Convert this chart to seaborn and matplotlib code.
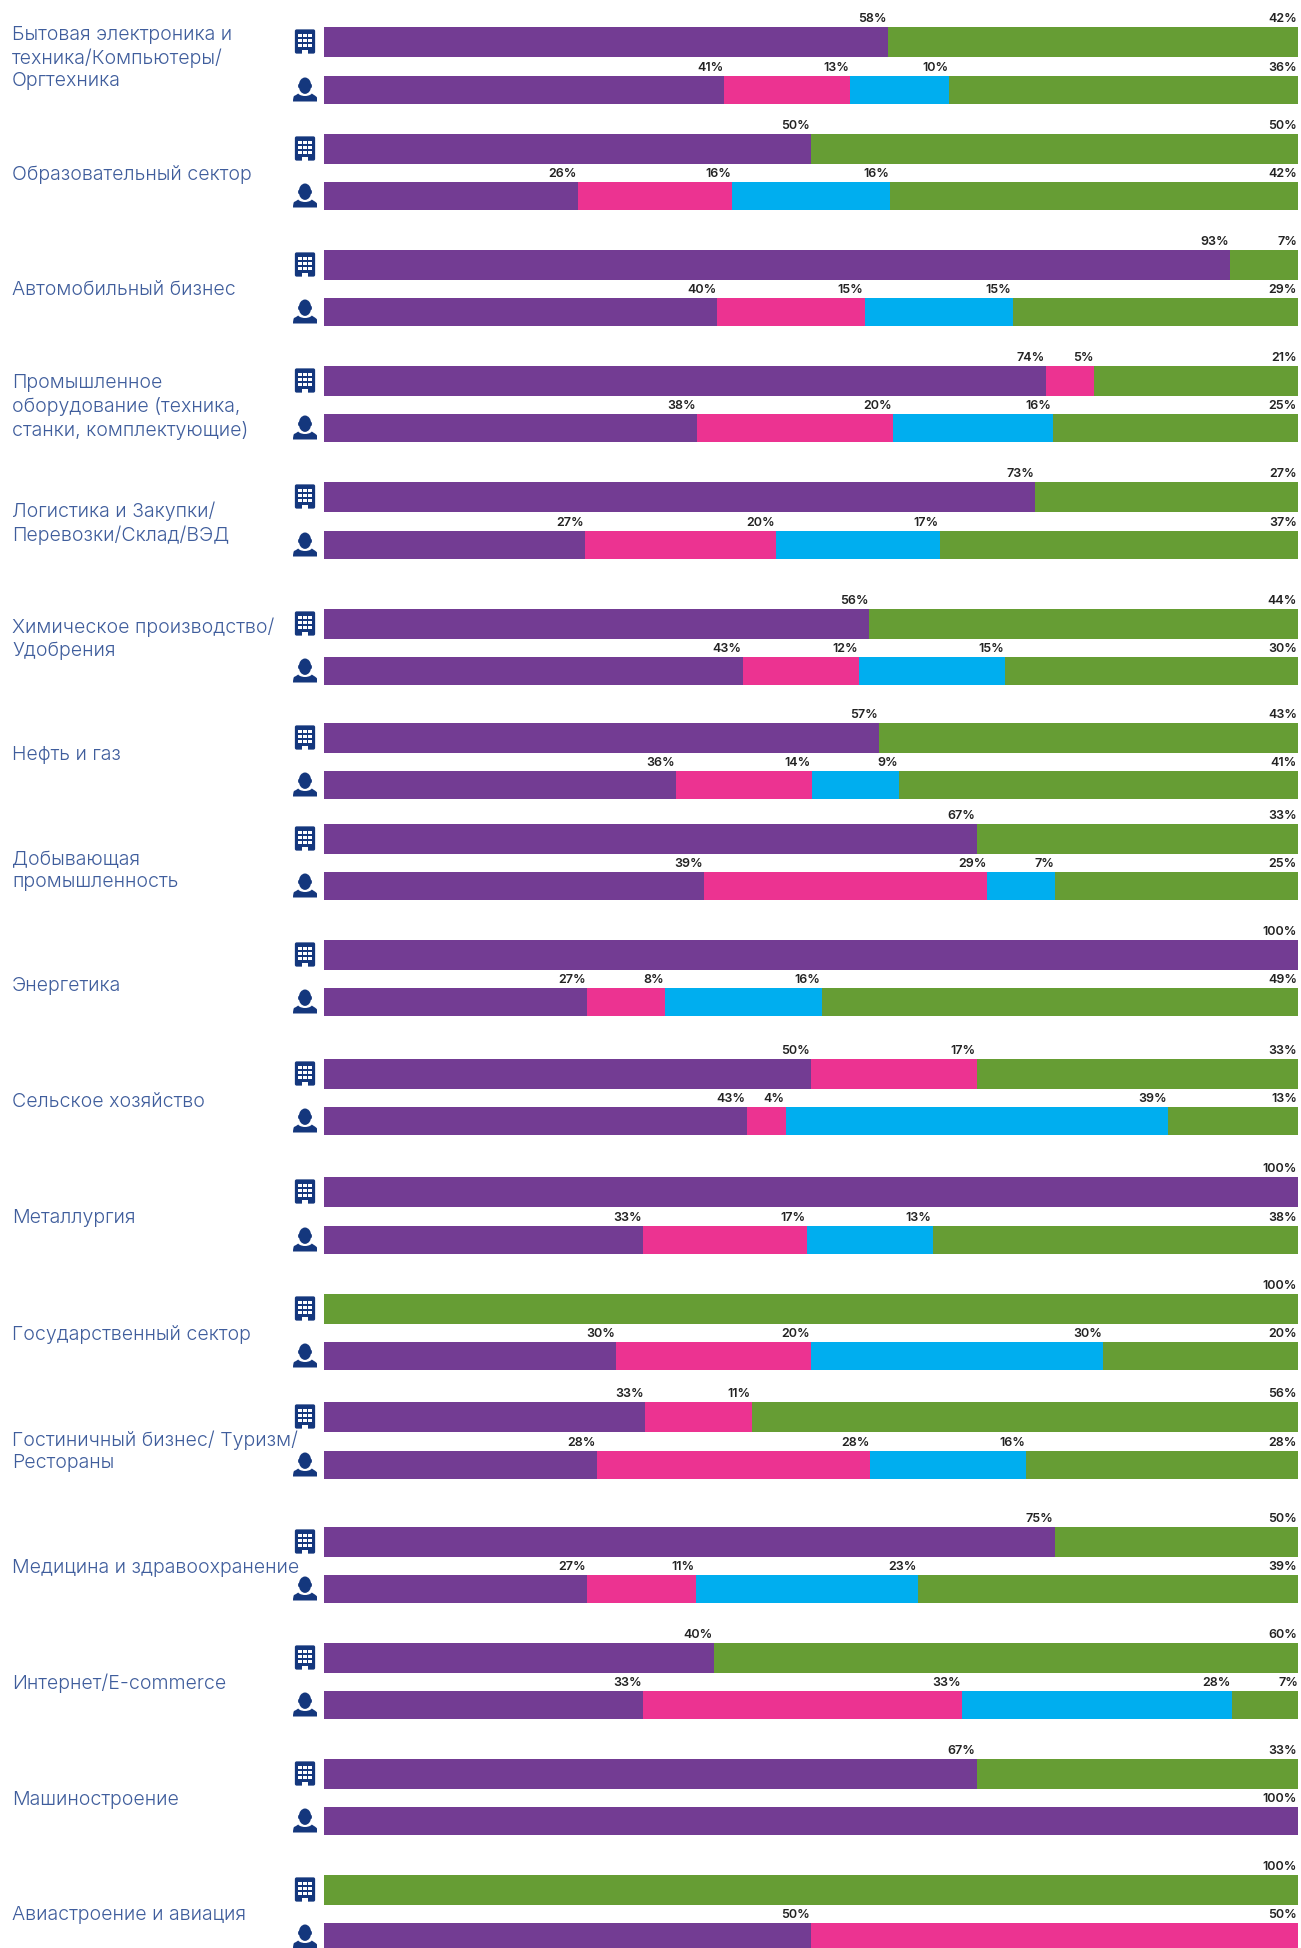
import matplotlib
matplotlib.use("Agg")
import matplotlib.pyplot as plt
import seaborn as sns
from matplotlib.patches import Ellipse, FancyBboxPatch, PathPatch, Rectangle
from matplotlib.path import Path

sectors = [
    "Бытовая электроника и\nтехника/Компьютеры/\nОргтехника",
    "Образовательный сектор",
    "Автомобильный бизнес",
    "Промышленное\nоборудование (техника,\nстанки, комплектующие)",
    "Логистика и Закупки/\nПеревозки/Склад/ВЭД",
    "Химическое производство/\nУдобрения",
    "Нефть и газ",
    "Добывающая\nпромышленность",
    "Энергетика",
    "Сельское хозяйство",
    "Металлургия",
    "Государственный сектор",
    "Гостиничный бизнес/ Туризм/\nРестораны",
    "Медицина и здравоохранение",
    "Интернет/E-commerce",
    "Машиностроение",
    "Авиастроение и авиация",
]

company_purple = [57.9, 50, 93, 74.1, 73, 56, 57, 67, 100, 50, 100, 0, 33, 75, 40, 67, 0]
company_pink = [0, 0, 0, 5, 0, 0, 0, 0, 0, 17, 0, 0, 10.9, 0, 0, 0, 0]
company_blue = [0] * 17
company_green = [42.1, 50, 7, 20.9, 27, 44, 43, 33, 0, 33, 0, 100, 56.1, 25, 60, 33, 100]

person_purple = [41.1, 26.1, 40.4, 38.3, 26.8, 43, 36.1, 39, 27, 43.4, 32.8, 30, 28, 27, 32.8, 100, 50]
person_pink = [12.9, 15.8, 15.1, 20.1, 19.6, 11.9, 14, 29.1, 8, 4, 16.8, 20, 28.1, 11.2, 32.7, 0, 50]
person_blue = [10.2, 16.2, 15.2, 16.4, 16.8, 15, 8.9, 7, 16.1, 39.3, 12.9, 30, 16, 22.8, 27.7, 0, 0]
person_green = [35.8, 41.9, 29.3, 25.2, 36.8, 30.1, 41, 24.9, 48.9, 13.3, 37.5, 20, 27.9, 39, 7, 0, 0]

# One printed label differs from the drawn length in the source chart.
label_overrides = {(13, "company", "green"): 50}

# Layout, in reference pixels.
W, H = 1301, 1948
BAR_LEFT, BAR_RIGHT = 324, 1298
COMPANY_H, PERSON_H = 30, 28
company_tops = [27, 134, 250, 366, 482, 609, 723, 824, 940, 1059, 1177, 1294, 1402, 1527, 1643, 1759, 1875]
person_tops = [76, 182, 298, 414, 531, 657, 771, 872, 988, 1107, 1226, 1342, 1451, 1575, 1691, 1807, 1923]
label_centers = [58, 175, 290, 407, 523, 639, 755, 871, 986, 1102, 1218, 1335, 1451, 1568, 1683, 1800, 1915]

PALETTE = {"purple": "#733c93", "pink": "#ec3391", "blue": "#00aeef", "green": "#669d34"}
ICON = "#14377d"
TEXT = "#3f5d9c"

sns.set_theme(style="white")
plt.rcParams["font.family"] = ["Inter", "DejaVu Sans"]

fig = plt.figure(figsize=(W / 100, H / 100), dpi=100, facecolor="white")

overlay = fig.add_axes([0, 0, 1, 1], zorder=0)
overlay.set_xlim(0, W)
overlay.set_ylim(H, 0)
overlay.axis("off")


def building(ax, top):
    x0, y0 = 295, top + 2.5
    ax.add_patch(FancyBboxPatch((x0 + 0.7, y0 + 0.7), 18.6, 22.6,
                                boxstyle="round,pad=0,rounding_size=1", fc=ICON, ec=ICON, lw=1.2))
    for row in range(3):
        for col in range(3):
            ax.add_patch(Rectangle((x0 + 3.3 + col * 5, y0 + 4 + row * 5), 3.4, 3.4, fc="white", ec="none"))
    ax.add_patch(Rectangle((x0 + 7.3, y0 + 20), 5.4, 4.4, fc="white", ec="none"))


def person(ax, top):
    cx, y = 305, top + 1.5
    body = Path(
        [(cx - 12, y + 24), (cx - 12, y + 20), (cx - 11, y + 18.5), (cx - 9, y + 17.5),
         (cx - 6, y + 15.5), (cx + 6, y + 15.5), (cx + 9, y + 17.5), (cx + 11, y + 18.5),
         (cx + 12, y + 20), (cx + 12, y + 24), (cx - 12, y + 24)],
        [Path.MOVETO, Path.CURVE3, Path.CURVE3, Path.LINETO, Path.LINETO, Path.LINETO,
         Path.LINETO, Path.CURVE3, Path.CURVE3, Path.LINETO, Path.CLOSEPOLY],
    )
    ax.add_patch(PathPatch(body, fc=ICON, ec="none"))
    ax.add_patch(Ellipse((cx, y + 14.2), 15, 8.6, fc="white", ec="none"))
    ax.add_patch(Ellipse((cx, y + 8.2), 12.4, 16.4, fc=ICON, ec="none"))
    ax.add_patch(Ellipse((cx - 6, y + 8.5), 1.8, 4, fc=ICON, ec="none"))
    ax.add_patch(Ellipse((cx + 6, y + 8.5), 1.8, 4, fc=ICON, ec="none"))


def stacked_row(i, group, top, height, series):
    ax = fig.add_axes([BAR_LEFT / W, 1 - (top + height) / H, (BAR_RIGHT - BAR_LEFT) / W, height / H], zorder=2)
    names = list(series)
    cums, total = [], 0
    for name in names:
        total += series[name][i]
        cums.append(total)
    # Stack by overdrawing from the longest cumulative bar to the shortest.
    for name, cum in reversed(list(zip(names, cums))):
        if series[name][i] > 0:
            sns.barplot(x=[cum], y=[group], color=PALETTE[name], width=1.0, saturation=1.0,
                        orient="h", ax=ax, linewidth=0)
    ax.set_xlim(0, 100)
    ax.set_ylim(0.5, -0.5)
    ax.axis("off")
    for name, cum in zip(names, cums):
        value = series[name][i]
        if value > 0:
            shown = label_overrides.get((i, group, name), round(value + 1e-9))
            ax.annotate(f"{shown}%", xy=(cum, 1), xycoords=ax.get_xaxis_transform(),
                        xytext=(-0.8, 3.7), textcoords="offset points", ha="right", va="baseline",
                        fontsize=9, fontweight=600, color="#222222", annotation_clip=False)


company = {"purple": company_purple, "pink": company_pink, "blue": company_blue, "green": company_green}
people = {"purple": person_purple, "pink": person_pink, "blue": person_blue, "green": person_green}

for i, sector in enumerate(sectors):
    stacked_row(i, "company", company_tops[i], COMPANY_H, company)
    stacked_row(i, "person", person_tops[i], PERSON_H, people)
    building(overlay, company_tops[i])
    person(overlay, person_tops[i])
    overlay.text(12, label_centers[i], sector, ha="left", va="center", fontsize=14.1, fontweight=300,
                 color=TEXT, linespacing=1.3, zorder=5)

fig.savefig("out.png", dpi=100, facecolor="white")
